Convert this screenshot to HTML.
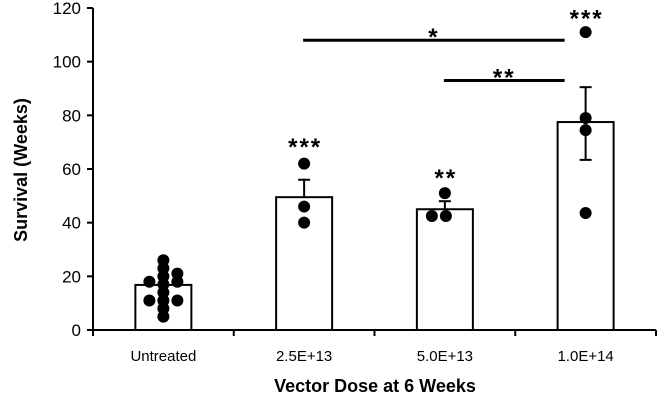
<!DOCTYPE html>
<html><head><meta charset="utf-8"><style>
html,body{margin:0;padding:0;background:#fff;}
svg{display:block;font-family:"Liberation Sans",Arial,sans-serif;}
</style></head><body>
<svg id="chart" width="660" height="404"></svg>
<script>
const categories = ["Untreated","2.5E+13","5.0E+13","1.0E+14"];
const means = [16.8, 49.5, 45, 77.5];
const errUpper = [16.8, 56, 48, 90.5];
const errLower = [16.8, 49.5, 45, 63.4];
const pointValues = [
  [26,23,20,17,14,11,8,5,18,11,21,18,11],
  [62,46,40],
  [51,42.5,42.5],
  [111,79,74.5,43.6]
];
const pointOffsets = [
  [0,0,0,0,0,0,0,0,-14,-14,14,14,14],
  [0,0,0],
  [0,-13,1],
  [0,0,0,0]
];
const starLabels = ["","***","**","***"];
const starValues = [0,70,58.5,118];
const yTicks = [0,20,40,60,80,100,120];
const sigBars = [{from:1,to:3,value:108,label:"*"},{from:2,to:3,value:93,label:"**"}];

const NS="http://www.w3.org/2000/svg";
const svg=document.getElementById('chart');
const x0=93,x1=656,y0=330,yTop=8,ymax=120;
const bandW=(x1-x0)/categories.length;
function yS(v){return y0-(v/ymax)*(y0-yTop);}
function xC(i){return x0+bandW*(i+0.5);}
function mk(tag,attrs,parent){const e=document.createElementNS(NS,tag);for(const k in attrs)e.setAttribute(k,attrs[k]);(parent||svg).appendChild(e);return e;}

let e=mk('line',{x1:x0,y1:yTop,x2:x0,y2:y0+1,stroke:'#000','stroke-width':2});


e=mk('line',{x1:x0-1,y1:y0,x2:x1,y2:y0,stroke:'#000','stroke-width':2});


yTicks.forEach(t=>{
  const y=yS(t);
  let l=mk('line',{x1:x0-6,y1:y,x2:x0,y2:y,stroke:'#000','stroke-width':2});
  
  
  let tx=mk('text',{x:x0-12,y:y+6,'text-anchor':'end','font-size':17,fill:'#000'});
  tx.textContent=t;
  
  
});
for(let i=0;i<=categories.length;i++){
  const x=x0+bandW*i;
  let l=mk('line',{x1:x,y1:y0,x2:x,y2:y0+6,stroke:'#000','stroke-width':2});
  
  
}
categories.forEach((c,i)=>{
  let tx=mk('text',{x:xC(i),y:361,'text-anchor':'middle','font-size':15,fill:'#000'});
  tx.textContent=c;
  
  
});
categories.forEach((c,i)=>{
  const bw=56;
  let r=mk('rect',{x:xC(i)-bw/2,y:yS(means[i]),width:bw,height:y0-yS(means[i]),fill:'#fff',stroke:'#000','stroke-width':2});
  
  
});
pointValues.forEach((arr,i)=>{
  arr.forEach((v,j)=>{
    let p=mk('circle',{cx:xC(i)+pointOffsets[i][j],cy:yS(v),r:6,fill:'#000'});
    
    
  });
});
categories.forEach((c,i)=>{
  if(errUpper[i]===errLower[i])return;
  const x=xC(i);
  let g=mk('g',{stroke:'#000','stroke-width':2});
  
  
  mk('line',{x1:x,y1:yS(errLower[i]),x2:x,y2:yS(errUpper[i])},g);
  mk('line',{x1:x-6,y1:yS(errUpper[i]),x2:x+6,y2:yS(errUpper[i])},g);
  if(errLower[i]<means[i]) mk('line',{x1:x-6,y1:yS(errLower[i]),x2:x+6,y2:yS(errLower[i])},g);
});
starLabels.forEach((s,i)=>{
  if(!s)return;
  let tx=mk('text',{x:xC(i)+1,y:yS(starValues[i])+13,'text-anchor':'middle','font-size':24,'font-weight':'bold','letter-spacing':2,fill:'#000'});
  tx.textContent=s;
  
  
});
sigBars.forEach(b=>{
  const xa=xC(b.from)-1, xb=xC(b.to)-21, y=yS(b.value);
  let l=mk('line',{x1:xa,y1:y,x2:xb,y2:y,stroke:'#000','stroke-width':3});
  
  
  let tx=mk('text',{x:(xa+xb)/2,y:y+5,'text-anchor':'middle','font-size':24,'font-weight':'bold','letter-spacing':2,fill:'#000'});
  tx.textContent=b.label;
  
  
});
let t=mk('text',{x:375,y:392,'text-anchor':'middle','font-size':18,'font-weight':'bold',fill:'#000'});
t.textContent='Vector Dose at 6 Weeks';


t=mk('text',{x:0,y:0,'text-anchor':'middle','font-size':18,'font-weight':'bold',fill:'#000',transform:'translate(27,170) rotate(-90)'});
t.textContent='Survival (Weeks)';


</script>
</body></html>
